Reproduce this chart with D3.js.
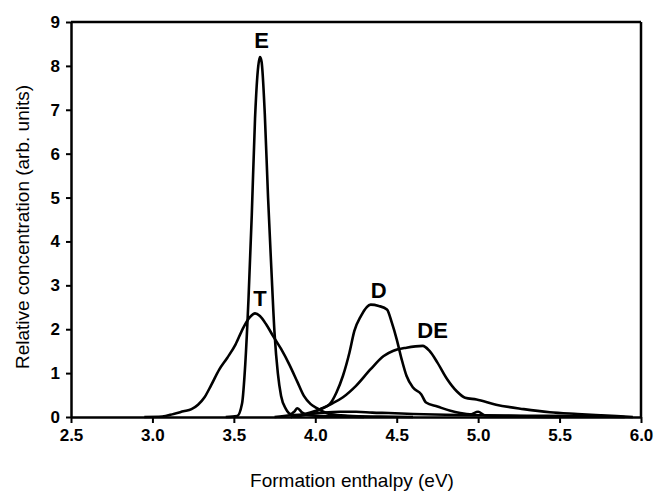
<!DOCTYPE html>
<html>
<head>
<meta charset="utf-8">
<script src="https://cdn.jsdelivr.net/npm/d3@7"></script>
<style>
  body { margin: 0; background: #fff; }
  text { font-family: "Liberation Sans", Arial, sans-serif; fill: #000; }
</style>
</head>
<body>
<svg id="chart" width="657" height="491"></svg>
<script>
// Data: [formation enthalpy (eV), relative concentration]
const curveE = [
    [3.45, 0], [3.52, 0.02], [3.55, 0.3], [3.57, 1.2], [3.59, 2.7], [3.61, 4.6],
    [3.63, 6.8], [3.65, 8.0], [3.66, 8.2], [3.67, 8.1], [3.69, 6.9], [3.71, 5.0],
    [3.73, 3.4], [3.75, 1.9], [3.77, 1.0], [3.79, 0.48], [3.82, 0.18], [3.85, 0.07],
    [3.87, 0.12], [3.89, 0.2], [3.92, 0.1], [3.95, 0.05], [4.0, 0.03], [4.1, 0.02], [4.3, 0]
];
const curveT = [
    [2.95, 0], [3.06, 0.01], [3.13, 0.07], [3.19, 0.13], [3.24, 0.18], [3.28, 0.28],
    [3.32, 0.45], [3.36, 0.72], [3.41, 1.08], [3.46, 1.35], [3.51, 1.65], [3.56, 2.05],
    [3.60, 2.28], [3.63, 2.36], [3.66, 2.30], [3.70, 2.10], [3.74, 1.85], [3.79, 1.55],
    [3.84, 1.20], [3.89, 0.80], [3.93, 0.48], [3.97, 0.30], [4.01, 0.20], [4.05, 0.12],
    [4.10, 0.06], [4.20, 0.03], [4.40, 0.01], [4.60, 0]
];
const curveD = [
    [3.85, 0], [3.92, 0.05], [3.97, 0.1], [4.03, 0.18], [4.09, 0.3], [4.13, 0.56],
    [4.17, 0.94], [4.21, 1.47], [4.24, 1.96], [4.28, 2.3], [4.34, 2.56], [4.39, 2.53],
    [4.44, 2.45], [4.47, 2.15], [4.50, 1.77], [4.53, 1.32], [4.56, 0.94], [4.60, 0.67],
    [4.65, 0.52], [4.68, 0.33], [4.75, 0.24], [4.83, 0.14], [4.89, 0.09], [4.95, 0.06],
    [5.0, 0.12], [5.04, 0.04], [5.2, 0.02], [5.5, 0]
];
const curveDE = [
    [3.85, 0], [3.95, 0.06], [4.01, 0.14], [4.10, 0.3], [4.17, 0.45], [4.25, 0.71],
    [4.34, 1.09], [4.42, 1.39], [4.48, 1.51], [4.56, 1.58], [4.66, 1.62], [4.70, 1.51],
    [4.75, 1.24], [4.81, 0.86], [4.87, 0.58], [4.92, 0.44], [4.99, 0.40], [5.11, 0.28],
    [5.28, 0.18], [5.44, 0.11], [5.61, 0.07], [5.75, 0.04], [5.85, 0.02], [5.95, 0]
];
const curveOther = [
    [3.75, 0], [3.85, 0.04], [3.95, 0.06], [4.05, 0.1], [4.15, 0.12], [4.25, 0.12],
    [4.35, 0.1], [4.45, 0.09], [4.6, 0.07], [4.8, 0.05], [5.0, 0.04], [5.3, 0.03],
    [5.6, 0.02], [5.9, 0]
];
const curves = [curveT, curveE, curveOther, curveDE, curveD];

const peakLabels = ["E", "T", "D", "DE"];
const peakLabelPos = [[3.67, 8.57], [3.66, 2.7], [4.39, 2.89], [4.72, 1.98]];

const xTicks = [2.5, 3.0, 3.5, 4.0, 4.5, 5.0, 5.5, 6.0];
const yTicks = [0, 1, 2, 3, 4, 5, 6, 7, 8, 9];

const svg = d3.select("#chart");
const plotLeft = 71, plotRight = 641, plotTop = 22, plotBottom = 417;

const x = d3.scaleLinear().domain([2.5, 6]).range([plotLeft, plotRight]);
const y = d3.scaleLinear().domain([0, 9]).range([plotBottom, plotTop]);

// Curves
const line = d3.line()
    .x(function(d) { return x(d[0]); })
    .y(function(d) { return y(d[1]); })
    .curve(d3.curveMonotoneX);

svg.selectAll(".curve")
    .data(curves)
    .enter().append("path")
    .attr("class", "curve")
    .attr("d", line)
    .style("fill", "none")
    .style("stroke", "#000")
    .style("stroke-width", 2.6)
    .style("stroke-linejoin", "round");

// Frame (top and right)
svg.append("line")
    .attr("x1", plotLeft).attr("x2", plotRight).attr("y1", plotTop).attr("y2", plotTop)
    .style("stroke", "#000").style("stroke-width", 2.5);
svg.append("line")
    .attr("x1", plotRight).attr("x2", plotRight).attr("y1", plotTop).attr("y2", plotBottom)
    .style("stroke", "#000").style("stroke-width", 2.5);

// Axes
const xAxis = svg.append("g")
    .attr("transform", "translate(0," + plotBottom + ")")
    .call(d3.axisBottom(x).tickValues(xTicks).tickFormat(d3.format(".1f"))
        .tickSize(6).tickPadding(6).tickSizeOuter(0));

const yAxis = svg.append("g")
    .attr("transform", "translate(" + plotLeft + ",0)")
    .call(d3.axisLeft(y).tickValues(yTicks).tickFormat(d3.format("d"))
        .tickSize(5).tickPadding(6).tickSizeOuter(0));

[xAxis, yAxis].forEach(function(g) {
    g.select(".domain").style("stroke", "#000").style("stroke-width", 2.5);
    g.selectAll(".tick line").style("stroke", "#000").style("stroke-width", 2);
    g.selectAll(".tick text")
        .style("font-family", "'Liberation Sans', Arial, sans-serif")
        .style("font-size", "17px")
        .style("font-weight", "bold")
        .style("fill", "#000");
});

// Axis titles
svg.append("text")
    .attr("x", 352)
    .attr("y", 487)
    .attr("text-anchor", "middle")
    .style("font-size", "19px")
    .text("Formation enthalpy (eV)");

svg.append("text")
    .attr("transform", "translate(22,227) rotate(-90)")
    .attr("text-anchor", "middle")
    .attr("dominant-baseline", "central")
    .style("font-size", "19px")
    .text("Relative concentration (arb. units)");

// Peak labels
svg.selectAll(".peak")
    .data(peakLabels)
    .enter().append("text")
    .attr("class", "peak")
    .attr("x", function(d, i) { return x(peakLabelPos[i][0]); })
    .attr("y", function(d, i) { return y(peakLabelPos[i][1]); })
    .attr("text-anchor", "middle")
    .attr("dominant-baseline", "central")
    .style("font-size", "22px")
    .style("font-weight", "bold")
    .text(function(d) { return d; });
</script>
</body>
</html>
